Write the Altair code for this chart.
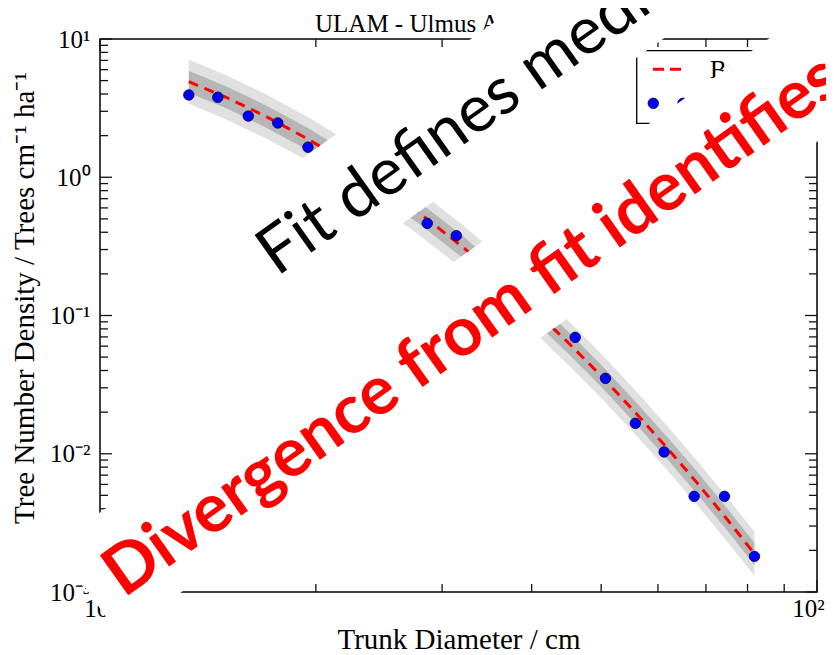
import altair as alt
import pandas as pd

# ---- observed data (trunk diameter cm, tree density) ----
diam = [13.3, 14.6, 16.1, 17.7, 19.5, 28.6, 31.4, 46.0, 50.7, 55.8, 61.2, 67.4, 74.3, 81.8]
dens = [3.94, 3.79, 2.77, 2.47, 1.65, 0.464, 0.378, 0.0695, 0.0351, 0.0166, 0.0103,
        0.00492, 0.00492, 0.00181]

# ---- fit curve and bands ----
fit_d = [13.3, 15, 17, 19.5, 22, 25, 28, 32, 36, 40, 45, 50, 56, 62, 68, 75, 81.8]
fit_n = [4.91, 3.78, 2.77, 1.89, 1.29, 0.832, 0.542, 0.315, 0.187, 0.114, 0.0635,
         0.0366, 0.0195, 0.0108, 0.00618, 0.00333, 0.00189]
inner_lo = [4.09, 3.15, 2.30, 1.57, 1.07, 0.692, 0.451, 0.262, 0.156, 0.0948, 0.0528,
            0.0305, 0.0162, 0.00899, 0.00514, 0.00277, 0.00157]
inner_hi = [5.90, 4.54, 3.33, 2.27, 1.55, 1.00, 0.651, 0.379, 0.225, 0.137, 0.0763,
            0.0440, 0.0234, 0.0130, 0.00743, 0.00400, 0.00227]
outer_lo = [3.40, 2.62, 1.92, 1.31, 0.893, 0.576, 0.375, 0.218, 0.129, 0.0789, 0.0439,
            0.0253, 0.0135, 0.00747, 0.00428, 0.00230, 0.00131]
outer_hi = [7.10, 5.46, 4.00, 2.73, 1.86, 1.20, 0.783, 0.455, 0.270, 0.165, 0.0918,
            0.0529, 0.0282, 0.0156, 0.00893, 0.00481, 0.00273]

# ---- tick values ----
y_major = [0.001, 0.01, 0.1, 1, 10]
y_minor = [0.002, 0.003, 0.004, 0.005, 0.006, 0.007, 0.008, 0.009,
           0.02, 0.03, 0.04, 0.05, 0.06, 0.07, 0.08, 0.09,
           0.2, 0.3, 0.4, 0.5, 0.6, 0.7, 0.8, 0.9,
           2, 3, 4, 5, 6, 7, 8, 9]
x_major = [10, 100]
x_minor = [20, 30, 40, 50, 60, 70, 80, 90]

title_text = "ULAM - Ulmus Americana"
legend_labels = ["Best fit", "Data"]
note_black = "Fit defines median behaviour"
note_red = "Divergence from fit identifies outliers"

SERIF = "Liberation Serif"
W, H = 717, 553

xs = alt.Scale(type="log", domain=[10, 100], nice=False)
ys = alt.Scale(type="log", domain=[0.001, 10], nice=False)

fit_df = pd.DataFrame({"d": fit_d, "n": fit_n, "ilo": inner_lo, "ihi": inner_hi,
                       "olo": outer_lo, "ohi": outer_hi})
pts_df = pd.DataFrame({"d": diam, "n": dens})
one = pd.DataFrame({"k": [0]})

sup = "['⁰','¹','²','³']"
y_axis = alt.Axis(values=y_major, ticks=False, tickSize=0, domain=False, grid=False,
                  labelExpr="'10' + (datum.value < 1 ? '⁻' : '') + " + sup +
                            "[abs(round(log(datum.value)/LN10))]",
                  labelFont=SERIF, labelFontSize=25, labelColor="black",
                  labelPadding=10, labelBaseline="middle", labelFlush=False,
                  labelOverlap=False, labelBound=False, zindex=0,
                  title="Tree Number Density / Trees cm⁻¹ ha⁻¹",
                  titleFont=SERIF, titleFontSize=29, titleFontWeight="normal",
                  titleColor="black", titleAngle=270, titleX=-67, titleY=258.5,
                  titleAlign="center", titleBaseline="alphabetic")
x_axis = alt.Axis(values=x_major, ticks=False, tickSize=0, domain=False, grid=False,
                  labelExpr="'10' + " + sup + "[round(log(datum.value)/LN10)]",
                  labelFont=SERIF, labelFontSize=25, labelColor="black",
                  labelPadding=4, labelBaseline="top", labelFlush=False,
                  labelOffset={"condition": {"test": "datum.value == 100", "value": -9},
                               "value": 0},
                  labelOverlap=False, labelBound=False, zindex=0,
                  title="Trunk Diameter / cm",
                  titleFont=SERIF, titleFontSize=29, titleFontWeight="normal",
                  titleColor="black", titleX=358.5, titleY=56,
                  titleAlign="center", titleBaseline="alphabetic")

outer = alt.Chart(fit_df).mark_area(color="#e0e0e0").encode(
    x=alt.X("d:Q", scale=xs, axis=x_axis),
    y=alt.Y("olo:Q", scale=ys, axis=y_axis),
    y2="ohi:Q")
inner = alt.Chart(fit_df).mark_area(color="#b6b6b6").encode(
    x=alt.X("d:Q", scale=xs),
    y=alt.Y("ilo:Q", scale=ys),
    y2="ihi:Q")
fit_line = alt.Chart(fit_df).mark_line(color="#ff0000", strokeWidth=3,
                                       strokeDash=[10, 7]).encode(
    x=alt.X("d:Q", scale=xs),
    y=alt.Y("n:Q", scale=ys))
DOT = dict(filled=True, fill="#0000ff", stroke="#000033", strokeWidth=0.8, size=110,
           opacity=1, shape="circle")
points = alt.Chart(pts_df).mark_point(**DOT).encode(
    x=alt.X("d:Q", scale=xs),
    y=alt.Y("n:Q", scale=ys))

TICK = dict(color="#111111", strokeWidth=1.3)


def yticks(vals, x0, x1):
    return alt.Chart(pd.DataFrame({"v": vals})).mark_rule(**TICK).encode(
        y=alt.Y("v:Q", scale=ys), x=alt.value(x0), x2=alt.value(x1))


def xticks(vals, y0, y1):
    return alt.Chart(pd.DataFrame({"v": vals})).mark_rule(**TICK).encode(
        x=alt.X("v:Q", scale=xs), y=alt.value(y0), y2=alt.value(y1))


ticks = [
    yticks(y_major, 0, 12), yticks(y_minor, 0, 8),
    yticks(y_major, W - 12, W), yticks(y_minor, W - 8, W),
    xticks(x_major, H - 12, H), xticks(x_minor, H - 8, H),
    xticks(x_major, 0, 12), xticks(x_minor, 0, 8),
]

# ---- legend (upper right) ----
leg_box = alt.Chart(one).mark_rect(fill="white", stroke="black", strokeWidth=1.3).encode(
    x=alt.value(536.7), x2=alt.value(705), y=alt.value(11.7), y2=alt.value(84.3))
leg_line = alt.Chart(one).mark_rule(color="#ff0000", strokeWidth=3,
                                    strokeDash=[11, 6]).encode(
    x=alt.value(553), x2=alt.value(582), y=alt.value(30.3))
leg_t1 = alt.Chart(one).mark_text(text=legend_labels[0], align="left", baseline="alphabetic",
                                  font=SERIF, fontSize=25, color="black").encode(
    x=alt.value(610), y=alt.value(39))
leg_d1 = alt.Chart(one).mark_point(**DOT).encode(x=alt.value(553.3), y=alt.value(64.3))
leg_d2 = alt.Chart(one).mark_point(**DOT).encode(x=alt.value(583), y=alt.value(64.3))
leg_t2 = alt.Chart(one).mark_text(text=legend_labels[1], align="left", baseline="alphabetic",
                                  font=SERIF, fontSize=25, color="black").encode(
    x=alt.value(610), y=alt.value(73))

title = alt.Chart(one).mark_text(text=title_text, align="left", baseline="alphabetic",
                                 font=SERIF, fontSize=25, color="black").encode(
    x=alt.value(215), y=alt.value(-7))

# ---- white text boxes of the overlaid annotations ----
mask1 = alt.Chart(one).mark_rule(color="white", strokeWidth=111, strokeCap="butt").encode(
    x=alt.value(140.43), y=alt.value(231.23), x2=alt.value(719.79), y2=alt.value(-179.15))
mask2 = alt.Chart(one).mark_rule(color="white", strokeWidth=112, strokeCap="butt").encode(
    x=alt.value(-12.8), y=alt.value(551.2), x2=alt.value(860.3), y2=alt.value(-67.29))

txt1 = alt.Chart(one).mark_text(text=note_black, angle=324.7, align="left",
                                baseline="alphabetic", font="Lato", fontSize=66,
                                color="black").encode(x=alt.value(177), y=alt.value(237.9))
txt2 = alt.Chart(one).mark_text(text=note_red, angle=324.7, align="left",
                                baseline="alphabetic", font="Lato", fontSize=68,
                                fontWeight="bold", color="#ff0000").encode(
    x=alt.value(23.8), y=alt.value(559.6))

chart = alt.layer(
    outer, inner, fit_line, points, *ticks,
    leg_box, leg_line, leg_t1, leg_d1, leg_d2, leg_t2, title,
    mask1, mask2, txt1, txt2
).properties(
    width=W, height=H,
    autosize=alt.AutoSizeParams(type="none"),
    padding={"left": 92, "top": 31, "right": 9, "bottom": 64},
    background="white",
).configure_view(stroke="black", strokeWidth=1.5)

chart.save("out.html", embed_options={"renderer": "svg", "actions": False})
